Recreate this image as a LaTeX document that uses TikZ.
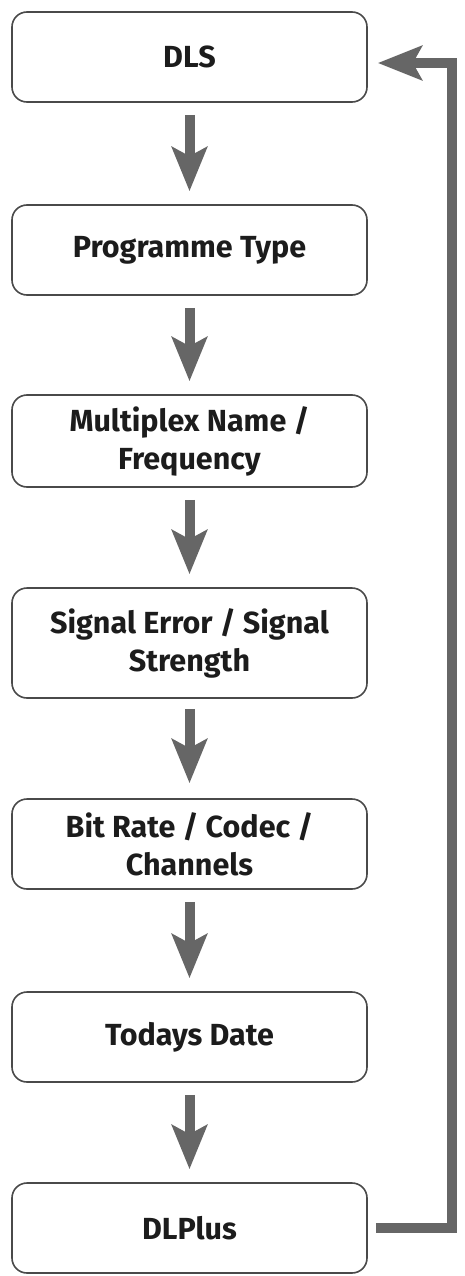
\documentclass[tikz,border=0pt]{standalone}
\usepackage{fontspec}
\setmainfont{Fira Sans}
\usetikzlibrary{arrows.meta,calc}
\definecolor{boxline}{HTML}{4A4A4A}
\definecolor{arrowgray}{HTML}{666666}
\definecolor{txt}{HTML}{1C1C1C}
\begin{document}
\begin{tikzpicture}[x=1pt,y=1pt,
  stepbox/.style={draw=boxline, line width=1.6pt, rounded corners=15pt, fill=white,
    minimum width=355pt, align=center, text=txt,
    font=\fontsize{30.5}{38}\selectfont\bfseries, inner sep=0pt},
  flow/.style={draw=arrowgray, line width=10pt,
    -{Stealth[length=44pt,width=35pt,inset=9pt]}},
  back/.style={draw=arrowgray, line width=10pt,
    -{Stealth[length=44pt,width=34pt,inset=9pt]}}]
\useasboundingbox (0,0) rectangle (465,-1276);
\node[stepbox, minimum height=90pt] (dls) at (189.5,-57) {DLS};
\node[stepbox, minimum height=90pt] (pt) at (189.5,-250) {Programme Type};
\node[stepbox, minimum height=92pt] (mux) at (189.5,-441) {Multiplex Name /\\Frequency};
\node[stepbox, minimum height=110pt] (sig) at (189.5,-643) {Signal Error / Signal\\Strength};
\node[stepbox, minimum height=90pt] (bit) at (189.5,-844) {Bit Rate / Codec /\\Channels};
\node[stepbox, minimum height=90pt] (day) at (189.5,-1037) {Todays Date};
\node[stepbox, minimum height=90pt] (dlp) at (189.5,-1228) {DLPlus};
\draw[flow, shorten <=12pt, shorten >=13pt] (dls) -- (pt);
\draw[flow, shorten <=12pt, shorten >=13pt] (pt) -- (mux);
\draw[flow, shorten <=12pt, shorten >=13pt] (mux) -- (sig);
\draw[flow, shorten <=10pt, shorten >=15pt] (sig) -- (bit);
\draw[flow, shorten <=12pt, shorten >=13pt] (bit) -- (day);
\draw[flow, shorten <=12pt, shorten >=13pt] (day) -- (dlp);
\coordinate (rail) at (452,0);
\coordinate (dlsin) at ($(dls.east)+(0,-6)$);
\draw[back, shorten <=8pt, shorten >=10pt] (dlp.east) -| (rail |- dlsin) -- (dlsin);
\end{tikzpicture}
\end{document}
